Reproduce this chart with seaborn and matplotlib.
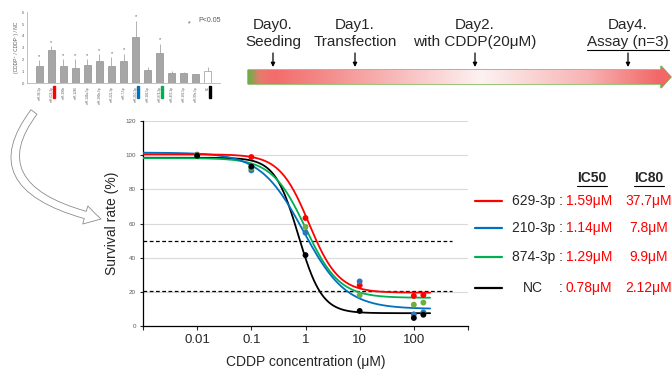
import numpy as np
import pandas as pd
import matplotlib.pyplot as plt
import matplotlib.colors as mcolors
from matplotlib.patches import Polygon, FancyArrowPatch, Rectangle
from matplotlib.path import Path
from matplotlib.lines import Line2D
import seaborn as sns

# --- small screening bar chart (top left) ---
bar_labels = ['miR-96-5p', 'miR-629-3p', 'miR-190b', 'miR-1246', 'miR-146a-5p',
              'miR-196b-5p', 'miR-221-3p', 'miR-7-5p', 'miR-210-3p', 'miR-182-5p',
              'miR-874-3p', 'miR-455-3p', 'miR-195-5p', 'miR-99a-5p', 'NC']
bar_values = [1.45, 2.8, 1.5, 1.27, 1.55, 1.85, 1.5, 1.85, 3.9, 1.15, 2.6, 0.9, 0.85, 0.75, 1.0]
bar_err = [0.5, 0.35, 0.55, 0.78, 0.5, 0.6, 0.7, 0.65, 1.4, 0.25, 0.75, 0.1, 0.07, 0.07, 0.35]
bar_sig = [1, 1, 1, 1, 1, 1, 1, 1, 1, 0, 1, 0, 0, 0, 0]
bar_marks = {1: '#ff0000', 8: '#0070c0', 10: '#00b050', 14: '#000000'}

# --- dose response ---
series = ['629-3p', '210-3p', '874-3p', 'NC']
conc = [0.01, 0.1, 1, 10, 100, 150]
surv_629 = [100.3, 98.9, 63.2, 23.8, 17.6, 18.1]
surv_210 = [100.0, 91.1, 54.6, 26.1, 6.8, 8.0]
surv_874 = [100.0, 92.5, 58.0, 18.0, 12.5, 13.7]
surv_nc = [99.7, 93.3, 41.5, 8.8, 4.7, 6.6]
# 4-parameter logistic fits: top, bottom, EC50, hill
fit_top = [100.5, 101.5, 98.3, 98.5]
fit_bottom = [19.5, 10.0, 16.5, 7.5]
fit_ec50 = [1.16, 0.906, 1.0, 0.74]
fit_hill = [1.6, 1.1, 1.4, 2.0]
ic50 = ['1.59μM', '1.14μM', '1.29μM', '0.78μM']
ic80 = ['37.7μM', '7.8μM', '9.9μM', '2.12μM']

line_colors = {'629-3p': '#ff0000', '210-3p': '#0070c0', '874-3p': '#00b050', 'NC': '#000000'}
point_colors = {'629-3p': '#ff0000', '210-3p': '#2e75b6', '874-3p': '#70ad47', 'NC': '#000000'}

sns.set_style('white')
plt.rcParams['font.family'] = ['Liberation Sans', 'DejaVu Sans']

fig = plt.figure(figsize=(6.72, 3.70), dpi=100)

# ---------------- main dose-response plot ----------------
ax = fig.add_axes([143 / 672, 1 - 326 / 370, 325 / 672, 205 / 370])
ax.set_facecolor('none')

pts = pd.DataFrame({
    'conc': conc * 4,
    'surv': surv_629 + surv_210 + surv_874 + surv_nc,
    'series': sum([[s] * len(conc) for s in series], []),
})
xs = np.logspace(-3, np.log10(200), 300)
curves = []
for s, t, b, e, h in zip(series, fit_top, fit_bottom, fit_ec50, fit_hill):
    curves.append(pd.DataFrame({'conc': xs, 'surv': b + (t - b) / (1 + (xs / e) ** h), 'series': s}))
curves = pd.concat(curves)

ax.set_xscale('log')
for yv in range(20, 121, 20):
    ax.axhline(yv, color='#d9d9d9', lw=0.8, zorder=0)
ax.hlines([50, 20.5], 1e-3, 500, colors='black', linestyles=(0, (3, 2)), lw=0.9, zorder=1)
sns.lineplot(data=curves, x='conc', y='surv', hue='series', palette=line_colors,
             hue_order=['NC', '874-3p', '210-3p', '629-3p'], lw=1.3, legend=False, ax=ax, zorder=3)
sns.scatterplot(data=pts, x='conc', y='surv', hue='series', palette=point_colors,
                hue_order=['629-3p', '874-3p', '210-3p', 'NC'], s=18, linewidth=0,
                legend=False, ax=ax, zorder=4)
ax.set_xlim(1e-3, 1e3)
ax.set_ylim(0, 120)
ax.set_xticks([1e-3, 1e-2, 1e-1, 1, 10, 100, 1000])
ax.set_xticklabels(['', '0.01', '0.1', '1', '10', '100', ''], fontsize=9.5)
ax.xaxis.set_minor_locator(plt.NullLocator())
ax.set_yticks(range(0, 121, 20))
ax.set_yticklabels([str(v) for v in range(0, 121, 20)], fontsize=4.5, color='#595959')
ax.tick_params(axis='x', length=3, width=0.8, pad=3, bottom=True)
ax.tick_params(axis='y', length=2, width=0.8, pad=3, left=True)
for sp in ['top', 'right']:
    ax.spines[sp].set_visible(False)
for sp in ['left', 'bottom']:
    ax.spines[sp].set_color('black')
    ax.spines[sp].set_linewidth(0.9)
ax.set_xlabel('CDDP concentration (μM)', fontsize=10, labelpad=6)
ax.set_ylabel('Survival rate (%)', fontsize=10, labelpad=5)

# ---------------- small bar chart ----------------
bx = fig.add_axes([27 / 672, 1 - 83.3 / 370, 193 / 672, 71 / 370])
bx.set_facecolor('none')
bdf = pd.DataFrame({'label': bar_labels, 'value': bar_values})
pal = ['#a6a6a6'] * (len(bar_labels) - 1) + ['white']
sns.barplot(data=bdf, x='label', y='value', hue='label', palette=pal, legend=False,
            edgecolor='#7f7f7f', linewidth=0.4, width=0.6, ax=bx)
bx.errorbar(range(len(bar_values)), bar_values, yerr=[[0] * len(bar_err), bar_err],
            fmt='none', ecolor='#a6a6a6', elinewidth=0.6, capsize=0)
for i, (v, e, sg) in enumerate(zip(bar_values, bar_err, bar_sig)):
    if sg:
        bx.text(i, v + e + 0.1, '*', ha='center', va='bottom', fontsize=4, color='#595959')
for i, c in bar_marks.items():
    bx.add_patch(Rectangle((i + 0.12, -0.2), 0.18, 0.16, transform=bx.get_xaxis_transform(),
                           color=c, clip_on=False))
bx.set_ylim(0, 6)
bx.set_yticks(range(0, 7))
bx.set_yticklabels([str(v) for v in range(0, 7)], fontsize=3, color='#595959')
bx.set_xticks(range(len(bar_labels)))
bx.set_xticklabels(bar_labels, rotation=90, fontsize=2.2, color='#595959')
bx.tick_params(length=1, width=0.4, pad=1)
bx.set_xlabel('')
bx.set_ylabel('(CDDP⁺ / CDDP⁻) / NC', fontsize=3.5, color='#595959', labelpad=2)
for sp in ['top', 'right']:
    bx.spines[sp].set_visible(False)
for sp in ['left', 'bottom']:
    bx.spines[sp].set_color('#a6a6a6')
    bx.spines[sp].set_linewidth(0.5)
bx.text(0.84, 0.82, '*', transform=bx.transAxes, fontsize=5, color='#595959', ha='center')
bx.text(0.89, 0.84, 'P<0.05', transform=bx.transAxes, fontsize=5, color='#595959', va='bottom')

# ---------------- overlay: timeline, arrow, legend ----------------
ov = fig.add_axes([0, 0, 1, 1], zorder=5)
ov.set_facecolor('none')
ov.axis('off')

arrow_poly = Polygon([(248, 70), (661, 70), (661, 66), (671, 77), (661, 88),
                      (661, 84), (248, 84)], closed=True, fc='none', ec='#70ad47', lw=1.0)
ov.add_patch(arrow_poly)
cmap = mcolors.LinearSegmentedColormap.from_list(
    'tl', [(0, '#70ad47'), (0.025, '#e87a6e'), (0.06, '#f36c6c'), (0.2, '#f59090'),
           (0.55, '#fdf2f2'), (0.8, '#f8b4b4'), (0.97, '#f26868'), (1, '#f26868')])
grad = np.linspace(0, 1, 400)[None, :]
im = ov.imshow(grad, cmap=cmap, extent=[248, 672, 88, 66], aspect='auto', zorder=1)
im.set_clip_path(arrow_poly)

tl_x = [273, 355, 475, 628]
tl_top = ['Day0.', 'Day1.', 'Day2.', 'Day4.']
tl_bot = ['Seeding', 'Transfection', 'with CDDP(20μM)', 'Assay (n=3)']
tl_texts = []
for x, a, b in zip(tl_x, tl_top, tl_bot):
    ov.text(x, 25, a, ha='center', va='center', fontsize=11)
    tl_texts.append(ov.text(x, 42, b, ha='center', va='center', fontsize=11))
    ov.annotate('', xy=(x, 67), xytext=(x, 53),
                arrowprops=dict(arrowstyle='-|>', color='black', lw=0.9, mutation_scale=6,
                                shrinkA=0, shrinkB=0))

curve_path = Path([(34, 112), (-25, 190), (101, 219)],
                  [Path.MOVETO, Path.CURVE3, Path.CURVE3])
ov.add_patch(FancyArrowPatch(path=curve_path,
                             arrowstyle='simple,head_length=1.3,head_width=1.5,tail_width=0.6',
                             mutation_scale=9, fc='white', ec='#8c8c8c', lw=0.6))

# legend with IC values
leg_y = [201, 228, 257, 288]
header_ic50 = ov.text(592, 178, 'IC50', ha='center', va='center', fontsize=10, fontweight='bold')
header_ic80 = ov.text(649, 178, 'IC80', ha='center', va='center', fontsize=10, fontweight='bold')
for s, y, a, b in zip(series, leg_y, ic50, ic80):
    ov.plot([475, 502], [y, y], color=line_colors[s], lw=1.6)
    if s == 'NC':
        ov.text(533, y, 'NC', ha='center', va='center', fontsize=10)
        ov.text(561, y, ':', ha='center', va='center', fontsize=10)
    else:
        ov.text(512, y, s + ' :', ha='left', va='center', fontsize=10)
    ov.text(566, y, a, ha='left', va='center', fontsize=10, color='#ff0000')
    ov.text(649, y, b, ha='center', va='center', fontsize=10, color='#ff0000')

ov.set_xlim(0, 672)
ov.set_ylim(370, 0)

# underlines
fig.canvas.draw()
rend = fig.canvas.get_renderer()
inv = fig.transFigure.inverted()
for t in [tl_texts[3], header_ic50, header_ic80]:
    bb = t.get_window_extent(rend)
    (x0, y0), (x1, y1) = inv.transform([(bb.x0, bb.y0 - 1), (bb.x1, bb.y0 - 1)])
    fig.add_artist(Line2D([x0, x1], [y0, y1], transform=fig.transFigure, color='black', lw=0.8))

fig.savefig('out.png', dpi=100)
